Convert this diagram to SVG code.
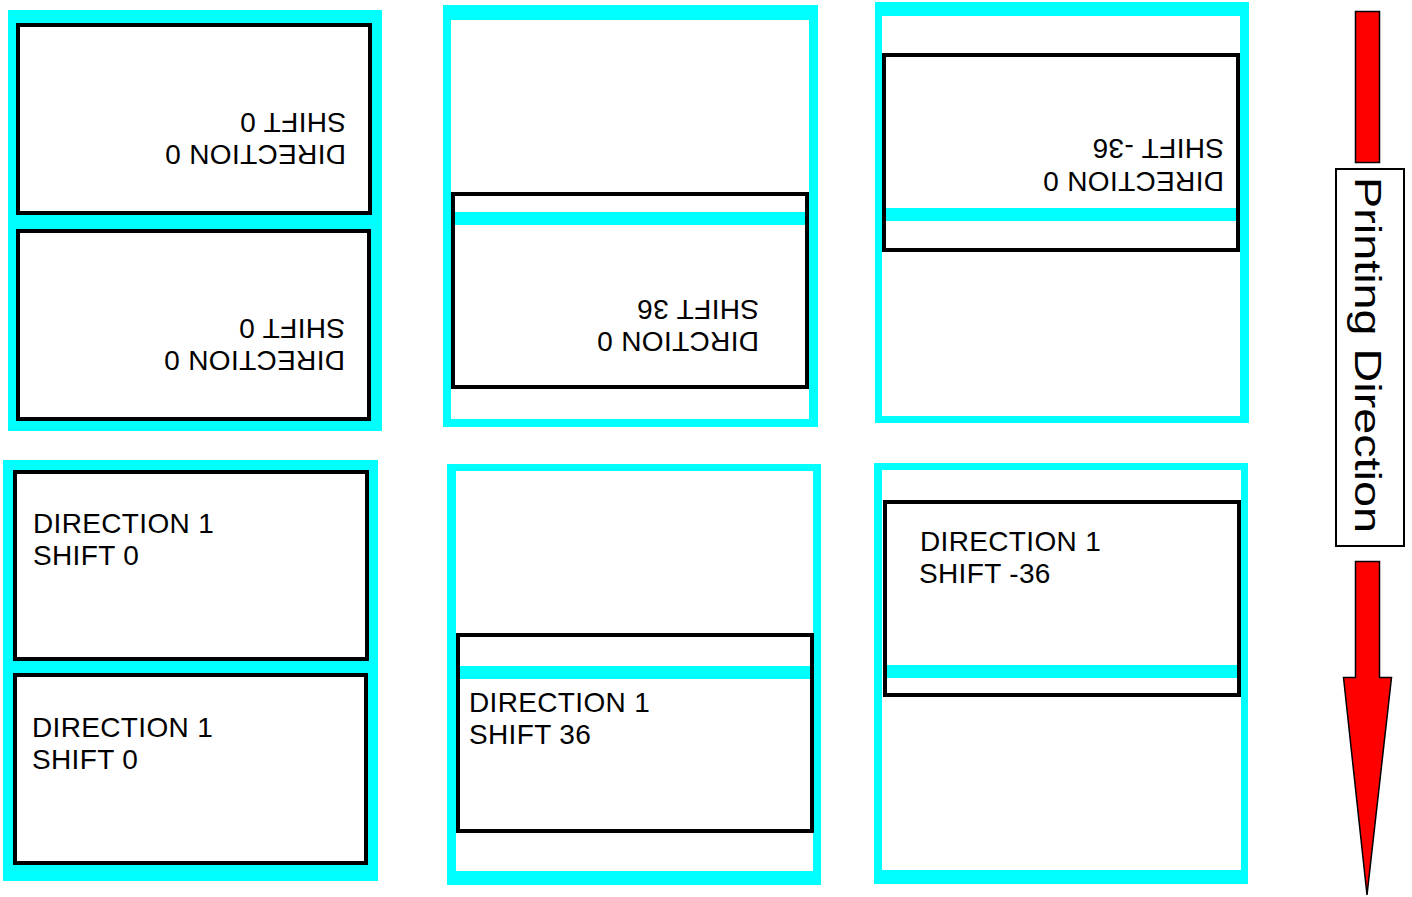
<svg xmlns="http://www.w3.org/2000/svg" width="1412" height="897" viewBox="0 0 1412 897">
<style>
.cy{fill:#00ffff}
.wh{fill:#ffffff}
.box{fill:#ffffff;stroke:#000000;stroke-width:4}
.t{font-family:"Liberation Sans",Arial,sans-serif;font-size:28px;letter-spacing:0.35px;fill:#000000}
.lbl{font-family:"Liberation Sans",Arial,sans-serif;font-size:36px;fill:#000000}
.arr{fill:#ff0000;stroke:#000000;stroke-width:1.5}
</style>
<rect width="1412" height="897" fill="#ffffff"/>

<g id="panel-top-left">
<rect class="cy" x="8" y="10" width="374" height="421"/>
<rect class="box" x="18" y="25" width="352" height="188"/>
<rect class="box" x="18" y="231" width="351" height="188"/>
<text class="t" transform="translate(346,145) rotate(180)"><tspan x="0" y="0">DIRECTION 0</tspan><tspan x="0" y="32">SHIFT 0</tspan></text>
<text class="t" transform="translate(345,351) rotate(180)"><tspan x="0" y="0">DIRECTION 0</tspan><tspan x="0" y="32">SHIFT 0</tspan></text>
</g>

<g id="panel-top-middle">
<rect class="cy" x="443" y="5" width="375" height="422"/>
<rect class="wh" x="451" y="20" width="358" height="399"/>
<rect class="box" x="453" y="194" width="354" height="193"/>
<rect class="cy" x="455" y="212" width="350" height="13"/>
<text class="t" transform="translate(759,332) rotate(180)"><tspan x="0" y="0">DIRCTION 0</tspan><tspan x="0" y="32">SHIFT 36</tspan></text>
</g>

<g id="panel-top-right">
<rect class="cy" x="875" y="2" width="374" height="421"/>
<rect class="wh" x="882" y="16" width="358" height="400"/>
<rect class="box" x="884" y="55" width="354" height="195"/>
<rect class="cy" x="886" y="208" width="350" height="13"/>
<text class="t" transform="translate(1224,172) rotate(180)"><tspan x="0" y="0">DIRECTION 0</tspan><tspan x="0" y="33">SHIFT -36</tspan></text>
</g>

<g id="panel-bottom-left">
<rect class="cy" x="3" y="460" width="375" height="421"/>
<rect class="box" x="15" y="472" width="352" height="187"/>
<rect class="box" x="15" y="675" width="351" height="188"/>
<text class="t"><tspan x="33" y="533">DIRECTION 1</tspan><tspan x="33" y="565">SHIFT 0</tspan></text>
<text class="t"><tspan x="32" y="737">DIRECTION 1</tspan><tspan x="32" y="769">SHIFT 0</tspan></text>
</g>

<g id="panel-bottom-middle">
<rect class="cy" x="447" y="464" width="374" height="421"/>
<rect class="wh" x="456" y="471" width="357" height="400"/>
<rect class="box" x="458" y="635" width="354" height="196"/>
<rect class="cy" x="460" y="666" width="350" height="13"/>
<text class="t"><tspan x="469" y="712">DIRECTION 1</tspan><tspan x="469" y="744">SHIFT 36</tspan></text>
</g>

<g id="panel-bottom-right">
<rect class="cy" x="874" y="463" width="374" height="421"/>
<rect class="wh" x="882" y="470" width="359" height="400"/>
<rect class="box" x="885" y="502" width="354" height="193"/>
<rect class="cy" x="887" y="665" width="350" height="13"/>
<text class="t"><tspan x="920" y="551">DIRECTION 1</tspan><tspan x="919" y="583">SHIFT -36</tspan></text>
</g>

<g id="printing-direction">
<rect class="arr" x="1355.5" y="11.5" width="24" height="151"/>
<path class="arr" d="M1355.5,561.5 H1379.5 V677.5 H1391.5 L1367,895 L1343.5,677.5 H1355.5 Z"/>
<rect x="1336" y="169" width="68" height="377" fill="#ffffff" stroke="#000000" stroke-width="2"/>
<text class="lbl" transform="translate(1355,177) rotate(90)" textLength="356" lengthAdjust="spacingAndGlyphs">Printing Direction</text>
</g>
</svg>
